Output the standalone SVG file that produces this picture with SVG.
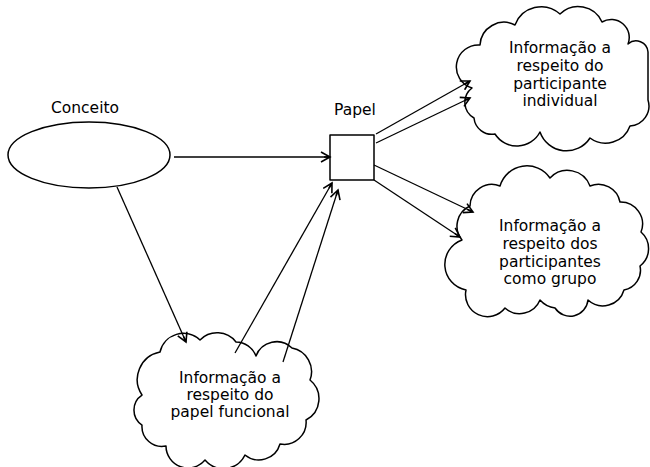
<svg xmlns="http://www.w3.org/2000/svg" width="650" height="467" viewBox="0 0 650 467">
<style>
.s{fill:none;stroke:#000;stroke-width:1.5;stroke-linejoin:round}
.t{font-family:"DejaVu Sans","Liberation Sans",sans-serif;font-size:15.5px;fill:#000;text-anchor:middle}
.c{fill:none;stroke:#000;stroke-width:1.3}
</style>
<defs>
<marker id="ah" markerWidth="12" markerHeight="12" refX="10" refY="6" orient="auto" markerUnits="userSpaceOnUse">
<path d="M1,1 L10,6 L1,11 M4,6 L10,6" fill="none" stroke="#000" stroke-width="1.6"/>
</marker>
</defs>
<rect width="650" height="467" fill="#fff"/>
<g id="conceito">
<ellipse class="s" cx="89" cy="155" rx="81" ry="33"/>
<text class="t" x="85" y="113">Conceito</text>
</g>
<g id="papel">
<rect class="s" x="330" y="135" width="44" height="45"/>
<text class="t" x="355" y="115">Papel</text>
</g>
<g id="participante">
<path class="s" d="M472,88 A22,22 0 0 1 480,45 A24,24 0 0 1 515,25 A28,28 0 0 1 560,14 A26,26 0 0 1 602,22 A18,18 0 0 1 628,44 A12,12 0 0 1 648,52 L648,100 A20,20 0 0 1 630,126 A26,26 0 0 1 590,138 A28,28 0 0 1 540,132 A26,26 0 0 1 495,134 A18,18 0 0 1 474,118 A18,18 0 0 1 472,88 Z"/>
<text class="t" x="560" y="53">Informação a</text>
<text class="t" x="560" y="71">respeito do</text>
<text class="t" x="560" y="89">participante</text>
<text class="t" x="560" y="106">individual</text>
</g>
<g id="grupo">
<path class="s" d="M462,240 A22,22 0 0 1 470,206 A22,22 0 0 1 500,186 A28,28 0 0 1 550,178 A24,24 0 0 1 590,186 A22,22 0 0 1 620,202 A22,22 0 0 1 641,232 A22,22 0 0 1 640,266 A20,20 0 0 1 624,290 A22,22 0 0 1 588,300 A18,18 0 0 1 555,308 A24,24 0 0 1 540,300 A22,22 0 0 1 505,308 A22,22 0 0 1 466,290 A26,26 0 0 1 462,240 Z"/>
<text class="t" x="550" y="231">Informação a</text>
<text class="t" x="550" y="249">respeito dos</text>
<text class="t" x="550" y="267">participantes</text>
<text class="t" x="550" y="284">como grupo</text>
</g>
<g id="funcional">
<path class="s" d="M142,395 A28,28 0 0 1 160,352 A24,24 0 0 1 200,340 A24,24 0 0 1 236,342 A22,22 0 0 1 256,356 A22,22 0 0 1 292,348 A24,24 0 0 1 310,380 A24,24 0 0 1 306,420 A22,22 0 0 1 280,444 A22,22 0 0 1 245,455 A24,24 0 0 1 205,460 A22,22 0 0 1 166,446 A20,20 0 0 1 142,425 A18,18 0 0 1 142,395 Z"/>
<text class="t" x="230" y="383">Informação a</text>
<text class="t" x="230" y="400">respeito do</text>
<text class="t" x="230" y="417">papel funcional</text>
</g>
<g id="connectors">
<line class="c" x1="174" y1="157" x2="330" y2="157" marker-end="url(#ah)"/>
<line class="c" x1="117" y1="187" x2="186" y2="342" marker-end="url(#ah)"/>
<line class="c" x1="235" y1="353" x2="332" y2="183" marker-end="url(#ah)"/>
<line class="c" x1="283" y1="362" x2="338" y2="190" marker-end="url(#ah)"/>
<line class="c" x1="376" y1="134" x2="470" y2="81" marker-end="url(#ah)"/>
<line class="c" x1="376" y1="143" x2="470" y2="98" marker-end="url(#ah)"/>
<line class="c" x1="374" y1="165" x2="473" y2="212" marker-end="url(#ah)"/>
<line class="c" x1="374" y1="180" x2="460" y2="237" marker-end="url(#ah)"/>
</g>
</svg>
